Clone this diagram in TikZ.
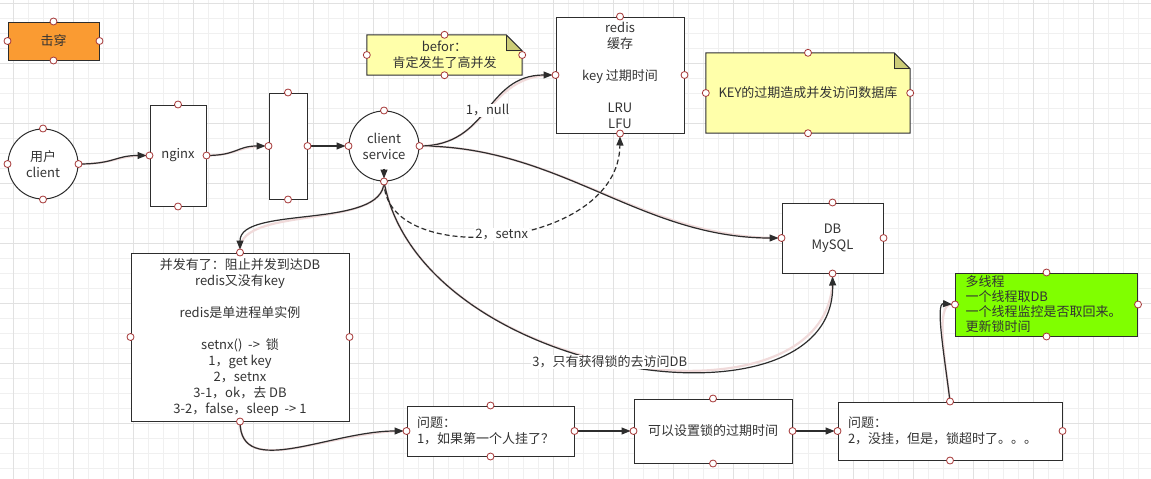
\documentclass[tikz,border=0pt]{standalone}
\usepackage{fontspec}
\setmainfont{Noto Sans CJK SC}
\usetikzlibrary{arrows.meta}
\definecolor{txt}{RGB}{51,51,51}
\definecolor{edge}{RGB}{45,45,45}
\definecolor{glow}{RGB}{240,218,218}
\definecolor{hdlred}{RGB}{165,55,55}
\definecolor{notey}{RGB}{255,255,170}
\definecolor{notefold}{RGB}{204,204,119}
\definecolor{jcorange}{RGB}{250,155,50}
\definecolor{mtgreen}{RGB}{128,255,0}
\definecolor{gridmin}{RGB}{240,240,240}
\definecolor{gridmaj}{RGB}{225,225,225}

\begin{document}
\begin{tikzpicture}[x=1pt, y=-1pt, every node/.style={font=\fontsize{13}{16}\selectfont, text=txt},
  box/.style={draw=edge, line width=1pt, fill=white, inner sep=0pt, align=center},
  leftbox/.style={box, align=left, inner xsep=10pt},
  note/.style={fill=notey, inner sep=0pt, align=center, path picture={
    \fill[white] ([xshift=-16pt]path picture bounding box.north east) -- (path picture bounding box.north east) -- ([yshift=-16pt]path picture bounding box.north east) -- cycle;
    \fill[notefold] ([xshift=-16pt]path picture bounding box.north east) -- ([xshift=-16pt,yshift=-16pt]path picture bounding box.north east) -- ([yshift=-16pt]path picture bounding box.north east) -- cycle;}},
  noteline/.style={draw=edge, line width=1pt},
  conn/.style={draw=edge, line width=1.2pt, preaction={draw=glow, line width=2.2pt, -}, -{Triangle[length=9pt,width=7pt]}, shorten >=3pt},
  dconn/.style={draw=edge, line width=1.2pt, dash pattern=on 5pt off 3pt, -{Triangle[length=9pt,width=7pt]}, shorten >=3pt},
  lbl/.style={fill=white, inner sep=1pt},
  hdl/.style={draw=hdlred, fill=white, line width=0.8pt}]
  \useasboundingbox (0,0) rectangle (1151,479);
  \fill[white] (0,0) rectangle (1151,479);
  % grid
  \foreach \gx in {-2,13,...,1148} \draw[gridmin, line width=0.8pt] (\gx,0) -- (\gx,479);
  \foreach \gy in {3,18,...,468} \draw[gridmin, line width=0.8pt] (0,\gy) -- (1151,\gy);
  \foreach \gx in {13,73,...,1133} \draw[gridmaj, line width=0.8pt] (\gx,0) -- (\gx,479);
  \foreach \gy in {3,63,...,423} \draw[gridmaj, line width=0.8pt] (0,\gy) -- (1151,\gy);

  \node[box, fill=jcorange, minimum width=91pt, minimum height=38pt] (jc) at (53.5,41) {击穿};
  \node[box, circle, minimum size=70pt] (user) at (43,164) {用户\\client};
  \node[box, minimum width=56pt, minimum height=101pt] (ngx) at (178,155.5) {nginx};
  \node[box, minimum width=38pt, minimum height=106pt] (mid) at (288,146) {};
  \node[box, circle, minimum size=70pt] (cs) at (384,146) {client\\service};
  \node[note, minimum width=155pt, minimum height=40pt] (bf) at (444.5,55) {befor：\\肯定发生了高并发};
  \node[box, minimum width=128pt, minimum height=116pt] (rds) at (620,75) {redis\\缓存\\~\\key 过期时间\\~\\LRU\\LFU};
  \node[note, minimum width=204pt, minimum height=80pt] (key) at (808,93) {KEY的过期造成并发访问数据库};
  \node[box, minimum width=101pt, minimum height=70pt] (db) at (832.5,238) {DB\\MySQL};
  \node[box, minimum width=218pt, minimum height=168pt] (big) at (240,337) {并发有了：阻止并发到达DB\\redis又没有key\\~\\redis是单进程单实例\\~\\setnx()\ \ ->\ \ 锁\\1，get key\\2，setnx\\3-1，ok，去 DB\\3-2，false，sleep\ \ -> 1};
  \node[leftbox, text width=147pt, minimum height=50pt] (q1) at (490.5,431) {问题：\\1，如果第一个人挂了？};
  \node[box, minimum width=158pt, minimum height=64pt] (lock) at (713,431) {可以设置锁的过期时间};
  \node[leftbox, text width=204pt, minimum height=58pt] (q2) at (950,431) {问题：\\2，没挂，但是，锁超时了。。。};
  \node[leftbox, fill=mtgreen, text width=162pt, minimum height=63pt, inner ysep=0pt, font=\fontsize{13}{15}\selectfont] (mt) at (1046.5,304.5) {多线程\\一个线程取DB\\一个线程监控是否取回来。\\更新锁时间};

  \foreach \n in {bf,key} {
    \draw[noteline] (\n.north west) -- ([xshift=-16pt]\n.north east) -- ([yshift=-16pt]\n.north east) -- (\n.south east) -- (\n.south west) -- cycle;
    \draw[noteline] ([xshift=-16pt]\n.north east) -- ([xshift=-16pt,yshift=-16pt]\n.north east) -- ([yshift=-16pt]\n.north east);
  }

  \draw[conn] (user.east) .. controls (115,164) and (115,155.5) .. (ngx.west);
  \draw[conn] (ngx.east) .. controls (237,155.5) and (237,146) .. (mid.west);
  \draw[conn] (mid.east) -- (cs.west);
  \draw[conn] (cs.east) .. controls (560,146) and (640,238) .. (db.west);
  \draw[conn] (cs.south) .. controls (384,230) and (240,205) .. (big.north);
  \draw[conn] (cs.south) .. controls (420,380) and (835,440) .. (db.south) node[lbl, pos=0.48] (l3) {3，只有获得锁的去访问DB};
  \draw[dconn] (cs.south) .. controls (384,270) and (619,250) .. (rds.south) node[lbl, pos=0.5] (l2) {2，setnx};
  \draw[conn] (cs.east) .. controls (490,146) and (485,75) .. (rds.west) node[lbl, pos=0.5] (l1) {1，null};
  \coordinate (csin) at ([yshift=13pt]cs.south);
  \draw[conn] (csin) -- (cs.south);
  \draw[conn] (big.south) .. controls (240,480) and (330,431) .. (q1.west);
  \draw[conn] (q1.east) -- (lock.west);
  \draw[conn] (lock.east) -- (q2.west);
  \draw[conn] (q2.north) .. controls (945,360) and (935,303) .. (mt.west);

  % handles
  \foreach \n in {jc,user,ngx,mid,cs,bf,rds,key,db,big,q1,lock,q2,mt}
    \foreach \a in {north,south,east,west}
      \draw[hdl] (\n.\a) circle (3.5pt);
\end{tikzpicture}
\end{document}
